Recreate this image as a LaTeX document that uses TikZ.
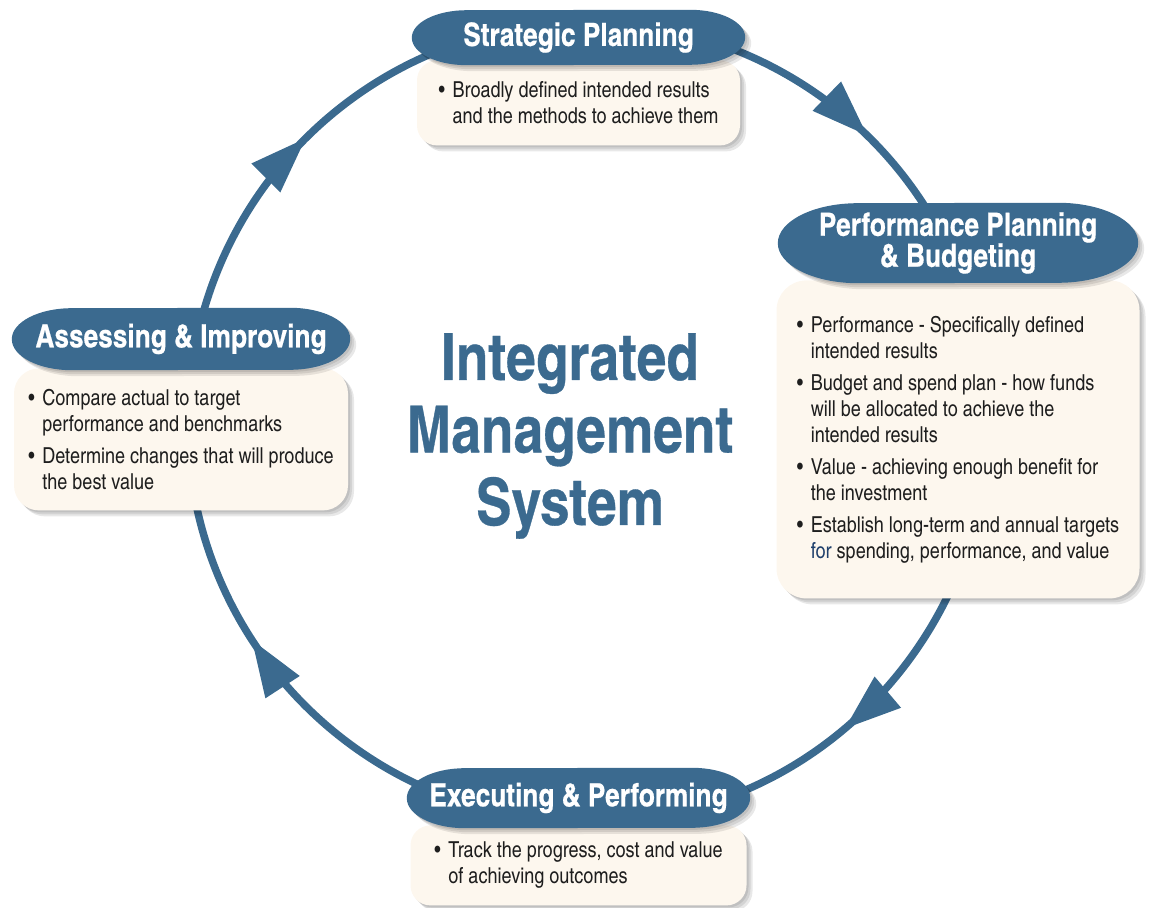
\documentclass[tikz,border=0pt]{standalone}
\usepackage{fontspec}
\setmainfont{texgyreheroscn}[Extension=.otf, UprightFont=*-regular, BoldFont=*-bold, ItalicFont=*-italic,
  BoldItalicFont=*-bolditalic, BoldFeatures={FakeBold=0.5}]
\usetikzlibrary{positioning, arrows.meta, calc, shadows, decorations.markings}
\definecolor{StageBlue}{HTML}{3B6A8F}
\definecolor{NoteCream}{HTML}{FDF7EE}
\definecolor{TextDark}{HTML}{1E1E1E}
\definecolor{ForBlue}{HTML}{1F3F6B}

\pgfdeclarelayer{cycle}
\pgfdeclarelayer{notes}
\pgfdeclarelayer{pills}
\pgfsetlayers{cycle,notes,pills,main}

\newcommand{\bitem}[1]{\makebox[14pt][l]{\textbullet}#1}
\newcommand{\bcont}{\hspace*{14pt}}
% pill behind a stage title: node, end x radius, half height
\newcommand{\stagepill}[3]{%
  \fill[pillfill] ([xshift=#2]#1.south west) arc[start angle=270, end angle=90, x radius=#2, y radius=#3]
    -- ([xshift=-#2]#1.north east) arc[start angle=90, end angle=-90, x radius=#2, y radius=#3] -- cycle;}

\tikzset{
  softshadow/.style={
    general shadow={fill=black, opacity=0.09, shadow xshift=2pt, shadow yshift=-2pt},
    general shadow={fill=black, opacity=0.09, shadow xshift=4pt, shadow yshift=-4pt},
    general shadow={fill=black, opacity=0.09, shadow xshift=6pt, shadow yshift=-6pt}},
}

\begin{document}
\begin{tikzpicture}[
  x=1pt, y=1pt,
  stage/.style={font=\bfseries\fontsize{32}{31}\selectfont, text=white, align=center, inner sep=0pt},
  pillfill/.style={fill=StageBlue, softshadow},
  notebox/.style={fill=NoteCream, rounded corners=20pt, softshadow, font=\fontsize{22}{26}\selectfont,
    text=TextDark, align=left, inner sep=0pt},
  bigtitle/.style={font=\bfseries\fontsize{65}{72.5}\selectfont, text=StageBlue, align=center, inner sep=0pt},
  flow/.style={color=StageBlue, line width=7.5pt, postaction={decorate},
    decoration={markings, mark=at position #1 with {\arrow{Triangle[length=56pt, width=41pt, line width=0pt]}}}},
]
  \useasboundingbox (0,0) rectangle (1152,908);
  \coordinate (cyc) at (588,486);

  % centre title
  \node[bigtitle] (ims) at (570,472) {Integrated\\Management\\System};

  % stage titles
  \node[stage, minimum width=333pt, minimum height=55pt] (sp) at (578.5,870.5) {Strategic Planning};
  \node[stage, minimum width=360pt, minimum height=80pt] (ppb) at (958,665) {Performance Planning\\\& Budgeting};
  \node[stage, minimum width=338pt, minimum height=62pt] (ai) at (181,569) {Assessing \& Improving};
  \node[stage, minimum width=343pt, minimum height=60pt] (ep) at (578.5,110) {Executing \& Performing};

  \begin{pgfonlayer}{pills}
    \stagepill{sp}{55pt}{27.5pt}
    \stagepill{ppb}{80pt}{40pt}
    \stagepill{ai}{60pt}{31pt}
    \stagepill{ep}{58pt}{30pt}
  \end{pgfonlayer}

  % notes under the stages
  \begin{pgfonlayer}{notes}
    \node[notebox, below=-5pt of sp, minimum width=323pt, minimum height=85pt] (spnote)
      {\bitem{Broadly defined intended results}\\\bcont and the methods to achieve them};
    \node[notebox, below=-3pt of ppb, minimum width=363pt, minimum height=318pt, rounded corners=30pt] (ppbnote)
      {\bitem{Performance - Specifically defined}\\\bcont intended results\\[6pt]
       \bitem{Budget and spend plan - how funds}\\\bcont will be allocated to achieve the\\\bcont intended results\\[6pt]
       \bitem{Value - achieving enough benefit for}\\\bcont the investment\\[6pt]
       \bitem{Establish long-term and annual targets}\\\bcont{\color{ForBlue}for} spending, performance, and value};
    \node[notebox, below=-2pt of ai, minimum width=334pt, minimum height=142pt, rounded corners=25pt] (ainote)
      {\bitem{Compare actual to target}\\\bcont performance and benchmarks\\[6pt]
       \bitem{Determine changes that will produce}\\\bcont the best value};
    \node[notebox, below=-3pt of ep, minimum width=336pt, minimum height=80pt] (epnote)
      {\bitem{Track the progress, cost and value}\\\bcont of achieving outcomes};
  \end{pgfonlayer}

  % the cycle
  \begin{pgfonlayer}{cycle}
    \coordinate (sp-c) at ($(cyc)+(92:400)$);
    \coordinate (ppb-c) at ($(cyc)+(26:400)$);
    \coordinate (ep-c) at ($(cyc)+(-90:400)$);
    \coordinate (ai-c) at ($(cyc)+(170:400)$);
    \draw[flow=0.70] (sp-c) to[out=2, in=116, looseness=0.93] (ppb-c);
    \draw[flow=0.655] (ppb-c) to[out=-64, in=0, looseness=1.11] (ep-c);
    \draw[flow=0.57] (ep-c) to[out=180, in=260, looseness=1.04] (ai-c);
    \draw[flow=0.45] (ai-c) to[out=80, in=182, looseness=0.96] (sp-c);
  \end{pgfonlayer}
\end{tikzpicture}
\end{document}
